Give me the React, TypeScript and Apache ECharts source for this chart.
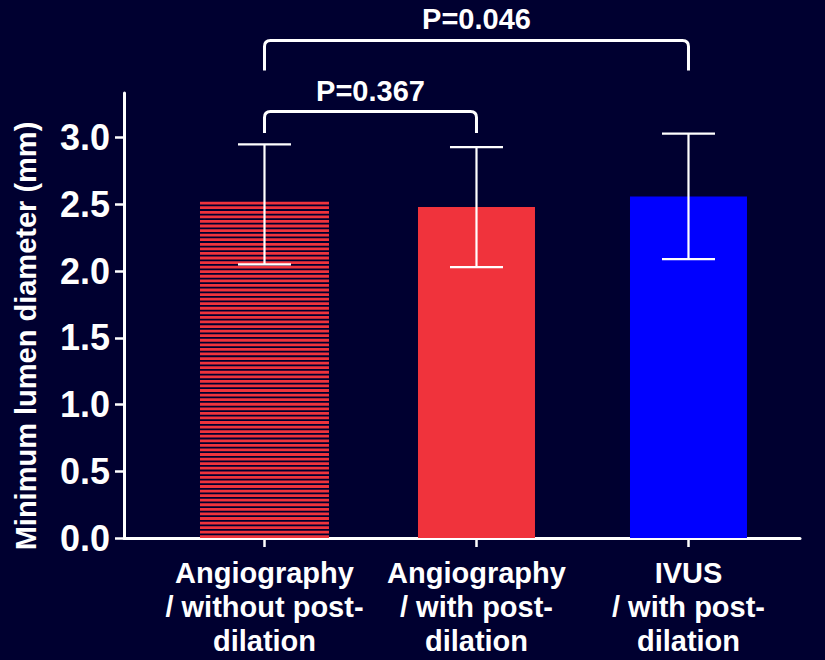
import React, { useEffect, useRef } from 'react';
import * as echarts from 'echarts';

const categories = [
  'Angiography\n/ without post-\ndilation',
  'Angiography\n/ with post-\ndilation',
  'IVUS\n/ with post-\ndilation',
];
const positions = [1, 2, 3];
const means = [2.52, 2.48, 2.56];
const errLow = [2.05, 2.03, 2.09];
const errHigh = [2.95, 2.93, 3.03];
const yTicks = [0, 0.5, 1.0, 1.5, 2.0, 2.5, 3.0];
// [from, to, legBottom, top]
const brackets = [
  [1, 3, 3.503, 3.729],
  [1, 2, 3.036, 3.196],
];
const pLabels = ['P=0.046', 'P=0.367'];
const yTitle = 'Minimum lumen diameter (mm)';

const BG = '#000030';
const RED = '#F0333C';
const BLUE = '#0000FF';
const FONT = '"Liberation Sans", Arial, Helvetica, sans-serif';

export default function App() {
  const ref = useRef<HTMLDivElement>(null);
  useEffect(() => {
    if (!ref.current) return;
    const chart = echarts.init(ref.current, null, { renderer: 'svg' });
    const barColors = [RED, RED, BLUE];
    const barWidths = [129, 117, 117];
    const option: any = {
      animation: false,
      backgroundColor: BG,
      grid: { left: 124, right: 25, top: 93, bottom: 122, containLabel: false },
      xAxis: {
        type: 'value',
        min: 0.3373,
        max: 3.526,
        splitLine: { show: false },
        axisLine: { show: true, onZero: false, lineStyle: { color: '#ffffff', width: 3 } },
        axisTick: { show: true, length: 9, customValues: positions, lineStyle: { color: '#ffffff', width: 2.5 } },
        axisLabel: {
          show: true,
          customValues: positions,
          margin: 18,
          color: '#ffffff',
          fontFamily: FONT,
          fontWeight: 'bold',
          fontSize: 29,
          lineHeight: 34,
          align: 'center',
          formatter: (v: number) => categories[Math.round(v) - 1] ?? '',
        },
      },
      yAxis: {
        type: 'value',
        min: 0,
        max: 3.335,
        splitLine: { show: false },
        axisLine: { show: true, lineStyle: { color: '#ffffff', width: 3 } },
        axisTick: { show: true, length: 9, customValues: yTicks, lineStyle: { color: '#ffffff', width: 2.5 } },
        axisLabel: {
          show: true,
          customValues: yTicks,
          margin: 14,
          color: '#ffffff',
          fontFamily: FONT,
          fontWeight: 'bold',
          fontSize: 36,
          formatter: (v: number) => v.toFixed(1),
        },
      },
      graphic: [
        {
          type: 'text',
          x: 25.5,
          y: 336,
          rotation: Math.PI / 2,
          style: {
            text: yTitle,
            fill: '#ffffff',
            font: `bold 29px ${FONT}`,
            align: 'center',
            verticalAlign: 'middle',
          },
        },
      ],
      series: [
        {
          type: 'custom',
          name: 'bars',
          clip: false,
          data: positions.map((p, i) => [p, means[i]]),
          encode: { x: 0, y: 1 },
          renderItem: (params: any, api: any) => {
            const i = params.dataIndex;
            const x = api.value(0);
            const v = api.value(1);
            const top = api.coord([x, v]);
            const base = api.coord([x, 0]);
            const w = barWidths[i];
            const left = top[0] - w / 2;
            if (i === 0) {
              const children: any[] = [];
              const period = 4.57;
              for (let y = top[1]; y < base[1] - 0.5; y += period) {
                children.push({
                  type: 'rect',
                  shape: { x: left, y, width: w, height: Math.min(2.8, base[1] - y) },
                  style: { fill: barColors[i] },
                });
              }
              return { type: 'group', children };
            }
            return {
              type: 'rect',
              shape: { x: left, y: top[1], width: w, height: base[1] - top[1] },
              style: { fill: barColors[i] },
            };
          },
          z: 2,
        },
        {
          type: 'custom',
          name: 'errors',
          clip: false,
          data: positions.map((p, i) => [p, errLow[i], errHigh[i]]),
          encode: { x: 0, y: [1, 2] },
          renderItem: (params: any, api: any) => {
            const x = api.value(0);
            const lo = api.coord([x, api.value(1)]);
            const hi = api.coord([x, api.value(2)]);
            const half = 26.5;
            const style = { stroke: '#ffffff', lineWidth: 2.2 };
            return {
              type: 'group',
              children: [
                { type: 'line', shape: { x1: lo[0], y1: lo[1], x2: hi[0], y2: hi[1] }, style },
                { type: 'line', shape: { x1: hi[0] - half, y1: hi[1], x2: hi[0] + half, y2: hi[1] }, style },
                { type: 'line', shape: { x1: lo[0] - half, y1: lo[1], x2: lo[0] + half, y2: lo[1] }, style },
              ],
            };
          },
          z: 3,
        },
        {
          type: 'custom',
          name: 'brackets',
          clip: false,
          data: brackets,
          encode: { x: [0, 1], y: [2, 3] },
          renderItem: (params: any, api: any) => {
            const i = params.dataIndex;
            const a = api.coord([api.value(0), api.value(2)]);
            const b = api.coord([api.value(1), api.value(3)]);
            const x1 = a[0];
            const x2 = b[0];
            const yb = a[1];
            const yt = b[1];
            const r = 6;
            const d = `M ${x1} ${yb} L ${x1} ${yt + r} Q ${x1} ${yt} ${x1 + r} ${yt} L ${x2 - r} ${yt} Q ${x2} ${yt} ${x2} ${yt + r} L ${x2} ${yb}`;
            return {
              type: 'group',
              children: [
                {
                  type: 'path',
                  shape: { pathData: d },
                  style: { stroke: '#ffffff', lineWidth: 3, fill: 'none', lineJoin: 'round' },
                },
                {
                  type: 'text',
                  x: (x1 + x2) / 2,
                  y: yt - 21,
                  style: {
                    text: pLabels[i],
                    fill: '#ffffff',
                    font: `bold 29px ${FONT}`,
                    align: 'center',
                    verticalAlign: 'middle',
                  },
                },
              ],
            };
          },
          z: 4,
        },
      ],
    };
    chart.setOption(option);
    return () => chart.dispose();
  }, []);
  return (
    <div
      ref={ref}
      style={{ position: 'absolute', left: 0, top: 0, width: 825, height: 660, background: BG }}
    />
  );
}
